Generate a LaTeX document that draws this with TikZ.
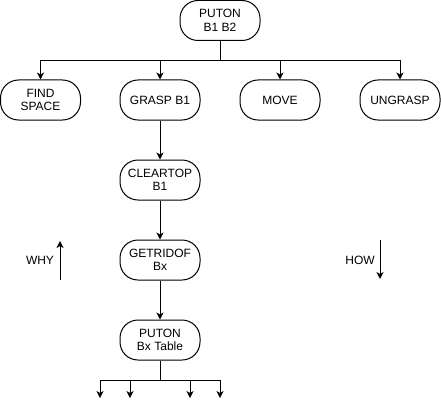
\documentclass[tikz,border=0pt]{standalone}
\usepackage{fontspec}
\setmainfont{Liberation Sans}
\usetikzlibrary{arrows.meta}
\begin{document}
\begin{tikzpicture}[x=1pt,y=-1pt,
  box/.style={draw,line width=1pt,rounded corners=18pt,minimum width=80pt,minimum height=40pt,inner sep=0pt,align=center,font=\fontsize{12pt}{13.5pt}\selectfont},
  lbl/.style={font=\fontsize{12pt}{13.5pt}\selectfont,inner sep=0pt},
  conn/.style={line width=1pt},
  arr/.style={line width=1pt,-{Stealth[length=7pt,width=7pt,inset=2pt]}}]
\useasboundingbox (0,0) rectangle (441,409);
\node[box] (puton) at (220,20.5) {PUTON\\B1 B2};
\node[box] (find) at (40.5,100) {FIND\\SPACE};
\node[box] (grasp) at (160,100) {GRASP B1};
\node[box] (move) at (280,100) {MOVE};
\node[box] (ungrasp) at (400,100) {UNGRASP};
\node[box] (clear) at (160,180) {CLEARTOP\\B1};
\node[box] (getrid) at (160,260) {GETRIDOF\\Bx};
\node[box] (putonbx) at (160,340) {PUTON\\Bx Table};
\coordinate (j1) at (220,60.5);
\draw[conn] (puton.south) -- (j1);
\draw[arr] (j1) -| (find.north);
\draw[arr] (j1) -| (grasp.north);
\draw[arr] (j1) -| (move.north);
\draw[arr] (j1) -| (ungrasp.north);
\draw[arr] (grasp.south) -- (clear.north);
\draw[arr] (clear.south) -- (getrid.north);
\draw[arr] (getrid.south) -- (putonbx.north);
\coordinate (j2) at (160,380);
\draw[conn] (putonbx.south) -- (j2);
\coordinate (e1) at (100,398);
\coordinate (e2) at (130,398);
\coordinate (e3) at (190,398);
\coordinate (e4) at (220,398);
\draw[arr] (j2) -| (e1);
\draw[arr] (j2) -| (e2);
\draw[arr] (j2) -| (e3);
\draw[arr] (j2) -| (e4);
\node[lbl] (why) at (40,260) {WHY};
\coordinate (wy1) at (60,280);
\coordinate (wy2) at (60,241);
\draw[arr] (wy1) -- (wy2);
\node[lbl] (how) at (360,260) {HOW};
\coordinate (hw1) at (380,240);
\coordinate (hw2) at (380,279);
\draw[arr] (hw1) -- (hw2);
\end{tikzpicture}
\end{document}
